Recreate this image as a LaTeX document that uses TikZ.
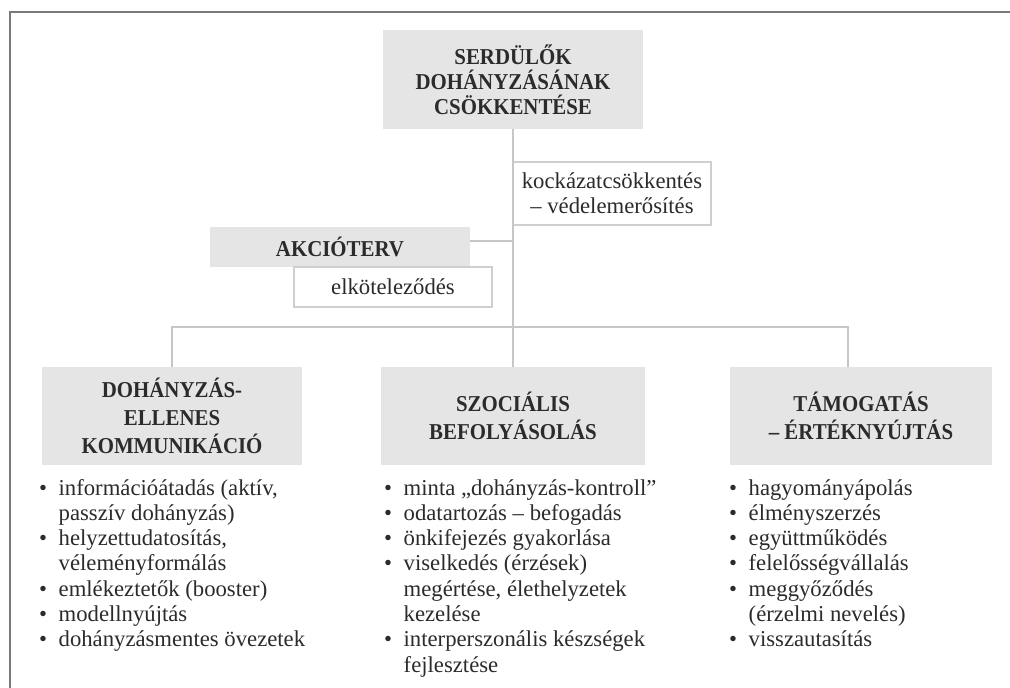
\documentclass[tikz,border=0pt]{standalone}
\usepackage{fontspec}
\setmainfont{Liberation Serif}
\newfontfamily\headfamily[FakeStretch=0.92]{Liberation Serif}
\definecolor{txt}{HTML}{2B2B2B}
\definecolor{boxgray}{HTML}{E5E5E5}
\definecolor{conng}{HTML}{C6C6C6}
\definecolor{lineg}{HTML}{CFCFCF}
\definecolor{framec}{HTML}{7A7A7A}
\newcommand\bodyfont{\fontsize{22.7}{25.3}\selectfont}
\newcommand\headfont{\headfamily\bfseries\fontsize{22.7}{28}\selectfont}
\newcommand\topfont{\headfamily\bfseries\fontsize{22.7}{25}\selectfont}
\newcommand\mybul{\makebox[19.5pt][l]{•}}
\newcommand\mycont{\hspace*{19.5pt}}
\newcommand\mylist[1]{\vtop{\bodyfont\baselineskip=25.3pt\lineskip=0pt\lineskiplimit=-10pt #1}}
\begin{document}
\begin{tikzpicture}[x=1pt,y=-1pt,
  every node/.style={text=txt, inner sep=0pt},
  graybox/.style={fill=boxgray, draw=none, align=center, font=\headfont},
  whitebox/.style={fill=white, draw=lineg, line width=1.2pt, align=center, font=\bodyfont},
  conn/.style={draw=conng, line width=2.5pt},
  listnode/.style={anchor=base west, align=left}
]
\useasboundingbox (0,0) rectangle (1010,688);
\draw[framec, line width=1.6pt] (1010,12) -- (10,12) -- (10,688);

% nodes
\node[graybox, minimum width=260pt, minimum height=99pt, font=\topfont] (goal) at (513,79.5) {SERDÜLŐK\\DOHÁNYZÁSÁNAK\\CSÖKKENTÉSE};
\node[whitebox, minimum width=198pt, minimum height=63pt] (risk) at (612,193.5) {kockázatcsökkentés\\– védelemerősítés};
\node[graybox, minimum width=260pt, minimum height=40pt] (plan) at (340,247) {AKCIÓTERV};
\node[whitebox, minimum width=198pt, minimum height=40pt] (commit) at (393,287) {elköteleződés};

\node[graybox, minimum width=260pt, minimum height=98pt] (comm) at (172,416) {DOHÁNYZÁS-\\ELLENES\\KOMMUNIKÁCIÓ};
\node[graybox, minimum width=264pt, minimum height=98pt] (soc) at (513,416) {SZOCIÁLIS\\BEFOLYÁSOLÁS};
\node[graybox, minimum width=262pt, minimum height=98pt] (supp) at (861,416) {TÁMOGATÁS\\– ÉRTÉKNYÚJTÁS};

% connectors
\coordinate (jr) at (848,327);
\draw[conn] (goal.south) -- (goal.south |- jr) -- (soc.north);
\draw[conn] (comm.north) |- (jr) -- (jr |- supp.north);
\draw[conn] ([yshift=6pt]plan.east) -- ([yshift=6pt]plan.east -| goal.south);

% lists
\node[listnode] (l1) at (39,495) {\mylist{%
\hbox{\mybul információátadás (aktív,}
\hbox{\mycont passzív dohányzás)}
\hbox{\mybul helyzettudatosítás,}
\hbox{\mycont véleményformálás}
\hbox{\mybul emlékeztetők (booster)}
\hbox{\mybul modellnyújtás}
\hbox{\mybul dohányzásmentes övezetek}}};

\node[listnode] (l2) at (384,495) {\mylist{%
\hbox{\mybul minta „dohányzás-kontroll”}
\hbox{\mybul odatartozás – befogadás}
\hbox{\mybul önkifejezés gyakorlása}
\hbox{\mybul viselkedés (érzések)}
\hbox{\mycont megértése, élethelyzetek}
\hbox{\mycont kezelése}
\hbox{\mybul interperszonális készségek}
\hbox{\mycont fejlesztése}}};

\node[listnode] (l3) at (729,495) {\mylist{%
\hbox{\mybul hagyományápolás}
\hbox{\mybul élményszerzés}
\hbox{\mybul együttműködés}
\hbox{\mybul felelősségvállalás}
\hbox{\mybul meggyőződés}
\hbox{\mycont (érzelmi nevelés)}
\hbox{\mybul visszautasítás}}};
\end{tikzpicture}
\end{document}
